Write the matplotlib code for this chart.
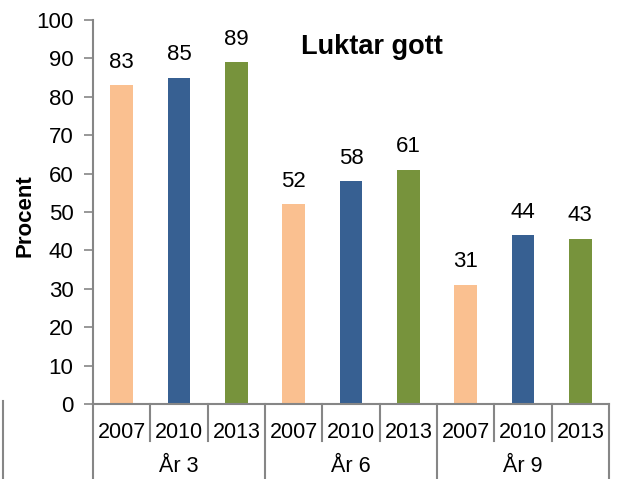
import matplotlib
matplotlib.use("Agg")
import matplotlib.pyplot as plt
from matplotlib.lines import Line2D

plt.rcParams['font.family'] = ['Liberation Sans', 'DejaVu Sans']

groups = ["År 3", "År 6", "År 9"]
years = ["2007", "2010", "2013"]
values = [83, 85, 89, 52, 58, 61, 31, 44, 43]
colors = ["#FAC090", "#376092", "#77933C"]
title = "Luktar gott"
ylabel = "Procent"

W, H = 619, 479
fig = plt.figure(figsize=(W / 100, H / 100), dpi=100)
left, right, bottom, top = 93 / W, 609 / W, 1 - 404 / H, 1 - 20 / H
ax = fig.add_axes([left, bottom, right - left, top - bottom])

n = len(values)
xs = [i + 0.5 for i in range(n)]
bar_colors = [colors[i % 3] for i in range(n)]
ax.bar(xs, values, width=0.39, color=bar_colors, zorder=2)
for x, v in zip(xs, values):
    ax.annotate(str(v), (x, v), xytext=(0, 9), textcoords="offset points",
                ha="center", va="bottom", fontsize=16)

ax.set_xlim(0, n)
ax.set_ylim(0, 100)
ax.set_yticks(range(0, 101, 10))
ax.tick_params(axis='y', labelsize=16, length=6.5, width=1.2, color="#868686", pad=7.5)
ax.set_xticks([])
for s in ["top", "right"]:
    ax.spines[s].set_visible(False)
for s in ["left", "bottom"]:
    ax.spines[s].set_color("#868686")
    ax.spines[s].set_linewidth(1.5)

ax.text(25 / W, 1 - 216 / H, ylabel, transform=fig.transFigure, rotation=90,
        ha="center", va="center", fontsize=16, fontweight="bold")
ax.text((372 - 93) / (609 - 93), (404 - 47) / (404 - 20), title, transform=ax.transAxes,
        ha="center", va="center", fontsize=19.5, fontweight="bold")

# multi-level category axis
trans = ax.get_xaxis_transform()
def fy(py):
    return (404 - py) / (404 - 20)

for i in range(n + 1):
    y_end = fy(479) if i % 3 == 0 else fy(441)
    ax.add_line(Line2D([i, i], [0, y_end], transform=trans, color="#868686",
                       lw=1.5, clip_on=False))
for i, yr in enumerate(years * len(groups)):
    ax.text(i + 0.5, fy(432), yr, transform=trans, ha="center", va="center",
            fontsize=15.5)
for g, name in enumerate(groups):
    ax.text(g * 3 + 1.5, fy(466), name, transform=trans, ha="center", va="center",
            fontsize=15.5)

# stray left border line
fig.add_artist(Line2D([3 / W, 3 / W], [1 - 401 / H, 0], color="#868686", lw=1.5))

fig.savefig("out.png", dpi=100)
